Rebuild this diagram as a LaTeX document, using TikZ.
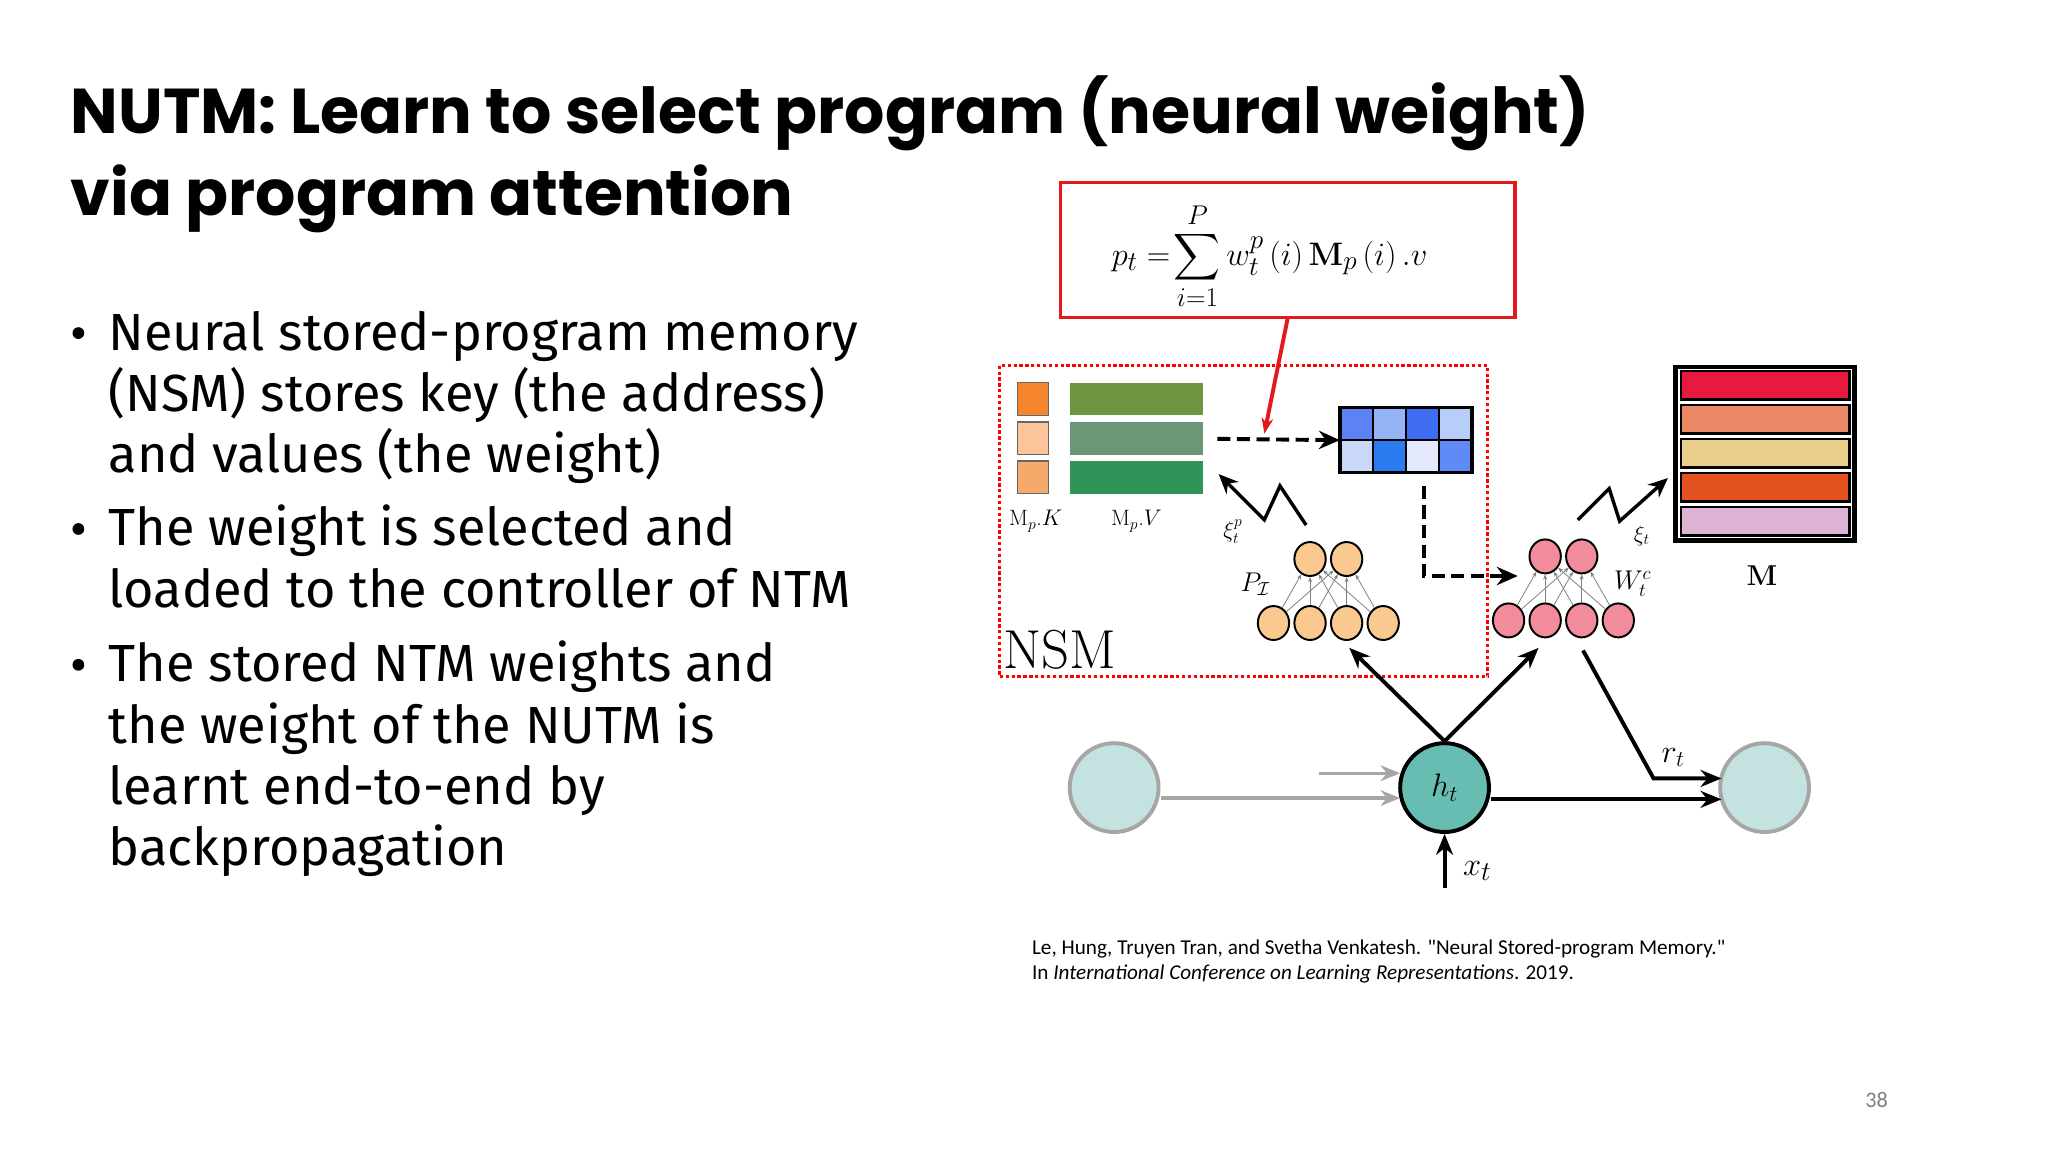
\documentclass[tikz,border=0pt]{standalone}
\usepackage{amsmath}
\usepackage[no-math]{fontspec}
\setmainfont{Fira Sans}
\newfontfamily\titlef{Poppins}
\newfontfamily\citef{Carlito}
\newfontfamily\lmr{Latin Modern Roman}
\usetikzlibrary{arrows.meta,shapes.geometric}
\definecolor{nred}{HTML}{E3191E}
\definecolor{oc}{HTML}{F9C98F}
\definecolor{pc}{HTML}{F28B9B}
\tikzset{
 blk/.style={line width=3pt,-{Stealth[length=16pt,width=13pt]}},
 gry/.style={line width=2.5pt,draw=gray!70,-{Stealth[length=15pt,width=12pt]}},
 neuO/.style={ellipse,draw,line width=1.5pt,fill=oc,minimum width=24pt,minimum height=26pt,inner sep=0pt},
 neuP/.style={ellipse,draw,line width=1.5pt,fill=pc,minimum width=24pt,minimum height=26pt,inner sep=0pt},
 bul/.style={anchor=base west,font=\fontsize{40}{42}\selectfont,inner sep=0pt},
 lab/.style={font=\lmr\fontsize{17}{17}\selectfont},
}
\begin{document}
\begin{tikzpicture}[x=1pt,y=-1pt]
\useasboundingbox[fill=white] (0,0) rectangle (1568,882);
% title
\node[anchor=base west,inner sep=0pt,font=\titlef\fontsize{48.5}{52}\selectfont\bfseries] (t1) at (54,102) {NUTM: Learn to select program (neural weight)};
\node[anchor=base west,inner sep=0pt,font=\titlef\fontsize{48.5}{52}\selectfont\bfseries] (t2) at (54,165) {via program attention};
% bullets
\foreach \y in {268,418,522} \fill (60,\y-13) circle (4.5);
\node[bul] (b1) at (83,268) {Neural stored-program memory};
\node[bul] (b2) at (83,315) {(NSM) stores key (the address)};
\node[bul] (b3) at (83,362) {and values (the weight)};
\node[bul] (b4) at (83,418) {The weight is selected and};
\node[bul] (b5) at (83,465) {loaded to the controller of NTM};
\node[bul] (b6) at (83,522) {The stored NTM weights and};
\node[bul] (b7) at (83,569) {the weight of the NUTM is};
\node[bul] (b8) at (83,616) {learnt end-to-end by};
\node[bul] (b9) at (83,663) {backpropagation};
% formula box
\draw[nred,line width=2.5pt] (812,140) rectangle (1160,243);
\node (form) at (972,196) {\fontsize{28}{30}\selectfont $\displaystyle p_t=\!\sum_{i=1}^{P} w_t^p\left(i\right)\mathbf{M}_p\left(i\right).v$};
\coordinate (fb) at (986,243);
\coordinate (fa) at (968,332);
\draw[nred,line width=3pt,-{Stealth[length=12pt,width=9pt]}] (fb) -- (fa);
% NSM box
\draw[red,line width=2.5pt,dotted] (765,280) rectangle (1139,518);
\node[anchor=base west,inner sep=0pt,font=\lmr\fontsize{42}{42}\selectfont] (nsm) at (768,512) {NSM};
% keys and values
\foreach \y/\c/\v in {293/F5862E/6E9640,323/FBC49A/6B9777,353/F5A96A/2E9458}{
  \definecolor{kc}{HTML}{\c}\definecolor{vc}{HTML}{\v}
  \filldraw[fill=kc,draw=black!60,line width=1pt] (779,\y) rectangle (803,\y+25);
  \fill[vc] (819,\y) rectangle (921,\y+25);}
\node[lab] (mk) at (793,399) {M$_p$.$K$};
\node[lab] (mv) at (870,399) {M$_p$.$V$};
% blue grid
\foreach \i/\c in {0/5B83F5,1/93B5F5,2/3F6EF2,3/B6CEF8}{\definecolor{gc}{HTML}{\c}\fill[gc] (1026+\i*25.25,312) rectangle ++(25.25,25);}
\foreach \i/\c in {0/C9D8F9,1/2B7BF0,2/E4EAFB,3/5E8BF5}{\definecolor{gc}{HTML}{\c}\fill[gc] (1026+\i*25.25,337) rectangle ++(25.25,25);}
\draw[line width=2.5pt] (1026,312) rectangle (1127,362);
\draw[line width=1.5pt] (1026,337) -- (1127,337);
\foreach \i in {1,2,3}\draw[line width=1.5pt] (1026+\i*25.25,312) -- ++(0,50);
\node[inner sep=0pt,minimum width=101pt,minimum height=50pt] (grid) at (1076.5,337) {};
\coordinate (da) at (932,336);
\draw[line width=3pt,dash pattern=on 10pt off 5pt,-{Stealth[length=16pt,width=14pt]}] (da) -- (grid.west);
% orange net
\foreach \n/\x in {a/975,b/1003,c/1031,d/1059} \node[neuO] (o\n) at (\x,477) {};
\foreach \n/\x in {a/1003,b/1031} \node[neuO] (ot\n) at (\x,428) {};
\foreach \u in {a,b,c,d} \foreach \v in {a,b} \draw[gray,line width=0.6pt,-{Stealth[length=4pt]}] (o\u) -- (ot\v);
\node[font=\fontsize{21}{21}\selectfont] (pi) at (961,447) {$P_{\mathcal{I}}$};
% pink net
\foreach \n/\x in {a/1155,b/1183,c/1211,d/1239} \node[neuP] (p\n) at (\x,475) {};
\foreach \n/\x in {a/1183,b/1211} \node[neuP] (pt\n) at (\x,426) {};
\foreach \u in {a,b,c,d} \foreach \v in {a,b} \draw[gray,line width=0.6pt,-{Stealth[length=4pt]}] (p\u) -- (pt\v);
\node[font=\fontsize{21}{21}\selectfont] (wc) at (1250,447) {$W_t^c$};
% grid to pink
\coordinate (g1) at (1090,372);
\draw[line width=3pt,dash pattern=on 10pt off 5pt,-{Stealth[length=16pt,width=14pt]}] (g1) |- (1162,441);
% zigzags
\coordinate (z1) at (1000,402);
\coordinate (z2) at (933,363);
\draw[line width=2.6pt,-{Stealth[length=15pt,width=13pt]}] (z1) -- (980,372) -- (968,398) -- (z2);
\node[font=\fontsize{17}{17}\selectfont] (xp) at (944,407) {$\xi_t^p$};
\coordinate (z3) at (1208,398);
\coordinate (z4) at (1277,366);
\draw[line width=2.6pt,-{Stealth[length=15pt,width=13pt]}] (z3) -- (1232,374) -- (1240,399) -- (z4);
\node[font=\fontsize{17}{17}\selectfont] (xt) at (1257,410) {$\xi_t$};
% memory M
\definecolor{m1}{HTML}{E8193F}\definecolor{m2}{HTML}{EA8764}\definecolor{m3}{HTML}{E9CE8A}\definecolor{m4}{HTML}{E3521E}\definecolor{m5}{HTML}{DEB4D5}
\draw[line width=3.5pt] (1283,281) rectangle (1420,414);
\foreach \i/\c in {0/m1,1/m2,2/m3,3/m4,4/m5} \filldraw[fill=\c,draw=black,line width=1.8pt] (1287,284+\i*26) rectangle (1416,284+\i*26+22);
\node[font=\lmr\bfseries\fontsize{22}{22}\selectfont] (m) at (1349,441) {M};
% recurrent part
\definecolor{hc}{HTML}{68BDB2}\definecolor{lc}{HTML}{C3E2E0}
\node[circle,draw,line width=3pt,fill=hc,minimum size=68pt,inner sep=0pt] (h) at (1106,603) {\fontsize{27}{27}\selectfont $h_t$};
\node[circle,draw=gray!70,line width=3pt,fill=lc,minimum size=68pt] (l) at (853,603) {};
\node[circle,draw=gray!70,line width=3pt,fill=lc,minimum size=68pt] (r) at (1351,603) {};
\coordinate (gs) at (1010,592);
\draw[gry] (l.east|-0,611) -- (1072,611);
\draw[gry] (gs) -- (1072,592);
\draw[blk] (h.east|-0,612) -- (1318,612);
\coordinate (rs) at (1212,498);
\draw[blk] (rs) -- (1266,596) -- (1318,596);
\node[font=\fontsize{26}{26}\selectfont] (rt) at (1281,580) {$r_t$};
\coordinate (xs) at (1106,680);
\draw[blk] (xs) -- (h.south);
\node[font=\fontsize{28}{28}\selectfont] (xtl) at (1131,667) {$x_t$};
\coordinate (e1) at (1033,496);
\coordinate (e2) at (1178,496);
\draw[blk] (h.north) -- (e1);
\draw[blk] (h.north) -- (e2);
% citation
\node[anchor=base west,inner sep=0pt,font=\citef\fontsize{16.2}{16}\selectfont] (c1) at (790,731) {Le, Hung, Truyen Tran, and Svetha Venkatesh. "Neural Stored-program Memory."};
\node[anchor=base west,inner sep=0pt,font=\citef\fontsize{16.2}{16}\selectfont] (c2) at (790,750) {In \textit{International Conference on Learning Representations}. 2019.};
\node[anchor=base west,inner sep=0pt,font=\citef\fontsize{17}{17}\selectfont,text=gray] (pg) at (1428,848) {38};
\end{tikzpicture}
\end{document}
